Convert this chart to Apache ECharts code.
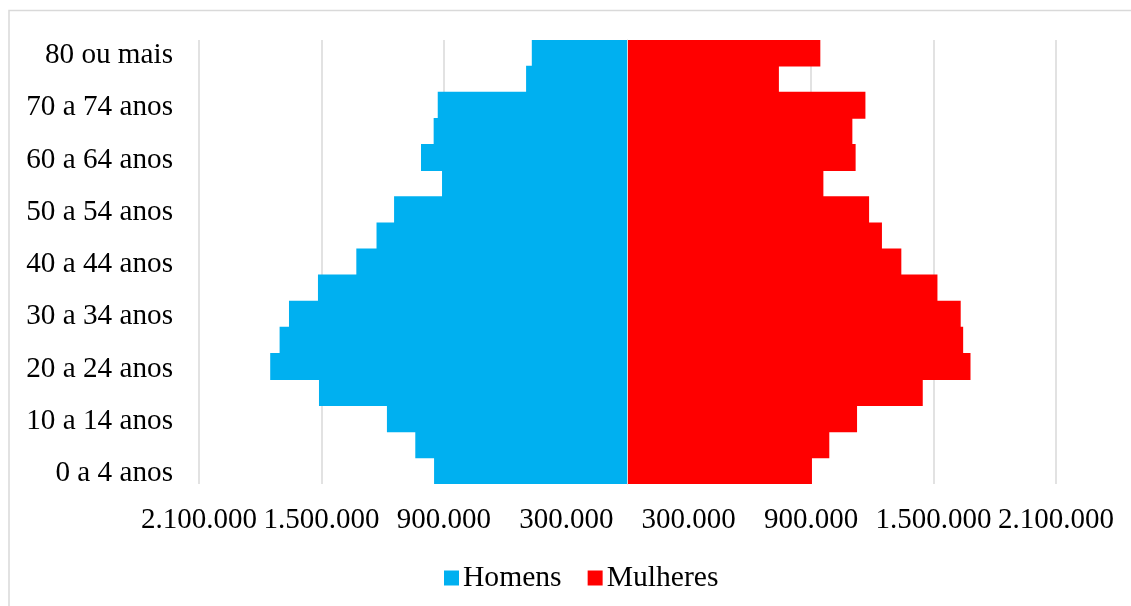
<!DOCTYPE html>
<html>
<head>
<meta charset="utf-8">
<script src="https://cdn.jsdelivr.net/npm/echarts@6/dist/echarts.min.js"></script>
<style>
  html, body { margin: 0; padding: 0; background: #fff; }
  #chart { width: 1131px; height: 606px; }
</style>
</head>
<body>
<div id="chart"></div>
<script>
// age groups, bottom to top
const ageGroups = [
  '0 a 4 anos', '5 a 9 anos', '10 a 14 anos', '15 a 19 anos', '20 a 24 anos',
  '25 a 29 anos', '30 a 34 anos', '35 a 39 anos', '40 a 44 anos', '45 a 49 anos',
  '50 a 54 anos', '55 a 59 anos', '60 a 64 anos', '65 a 69 anos', '70 a 74 anos',
  '75 a 79 anos', '80 ou mais'
];
const homens = [
  948000, 1040000, 1179000, 1512000, 1751000, 1705000, 1659000, 1517000, 1329000,
  1230000, 1144000, 909000, 1012000, 950000, 930000, 497000, 469000
];
const mulheres = [
  904000, 989000, 1125000, 1447000, 1681000, 1645000, 1633000, 1519000, 1342000,
  1247000, 1184000, 960000, 1118000, 1102000, 1166000, 742000, 945000
];
const xTicks = [-2100000, -1500000, -900000, -300000, 300000, 900000, 1500000, 2100000];

const fontFamily = '"Liberation Serif", "DejaVu Serif", serif';
const textColor = '#000';

const fmt = (v) => String(Math.abs(v)).replace(/\B(?=(\d{3})+(?!\d))/g, '.');

const chart = echarts.init(document.getElementById('chart'));

chart.setOption({
  animation: false,
  textStyle: { fontFamily: fontFamily },
  grid: {
    left: 199,
    right: 75,
    top: 40,
    bottom: 122,
    containLabel: false
  },
  legend: {
    bottom: 8,
    left: 439,
    itemWidth: 15,
    itemHeight: 15,
    itemGap: 26,
    icon: 'rect',
    textStyle: { fontFamily: fontFamily, fontSize: 29.6, color: textColor, padding: [0, 0, 0, -1] },
    data: ['Homens', 'Mulheres']
  },
  xAxis: {
    type: 'value',
    min: -2100000,
    max: 2100000,
    axisLine: { show: false },
    axisTick: { show: false, customValues: xTicks },
    splitLine: { show: true, lineStyle: { color: '#d9d9d9', width: 1.5 } },
    axisLabel: {
      customValues: xTicks,
      formatter: fmt,
      fontFamily: fontFamily,
      fontSize: 29,
      color: textColor,
      margin: 22
    }
  },
  yAxis: {
    type: 'category',
    data: ageGroups,
    z: 3,
    axisTick: { show: false },
    splitLine: { show: false },
    splitArea: { show: false },
    axisLine: { show: true, onZero: true, lineStyle: { color: '#d9d9d9', width: 1 } },
    axisLabel: {
      interval: 1,
      margin: 26,
      formatter: (v) => '{a|' + v + '}',
      rich: {
        a: {
          fontFamily: fontFamily,
          fontSize: 29.2,
          color: textColor,
          padding: [5, 0, 0, 0]
        }
      }
    }
  },
  series: [
    {
      name: 'Homens',
      type: 'bar',
      data: homens.map(v => -v),
      itemStyle: { color: '#00b0f0' },
      barWidth: 27,
      barGap: '-100%',
      z: 2
    },
    {
      name: 'Mulheres',
      type: 'bar',
      data: mulheres,
      itemStyle: { color: '#ff0000' },
      barWidth: 27,
      barGap: '-100%',
      z: 2
    }
  ],
  graphic: [
    {
      type: 'rect',
      shape: { x: 9, y: 10.5, width: 1130, height: 600 },
      style: { fill: 'none', stroke: '#d9d9d9', lineWidth: 1.5 },
      silent: true
    }
  ]
});
</script>
</body>
</html>
